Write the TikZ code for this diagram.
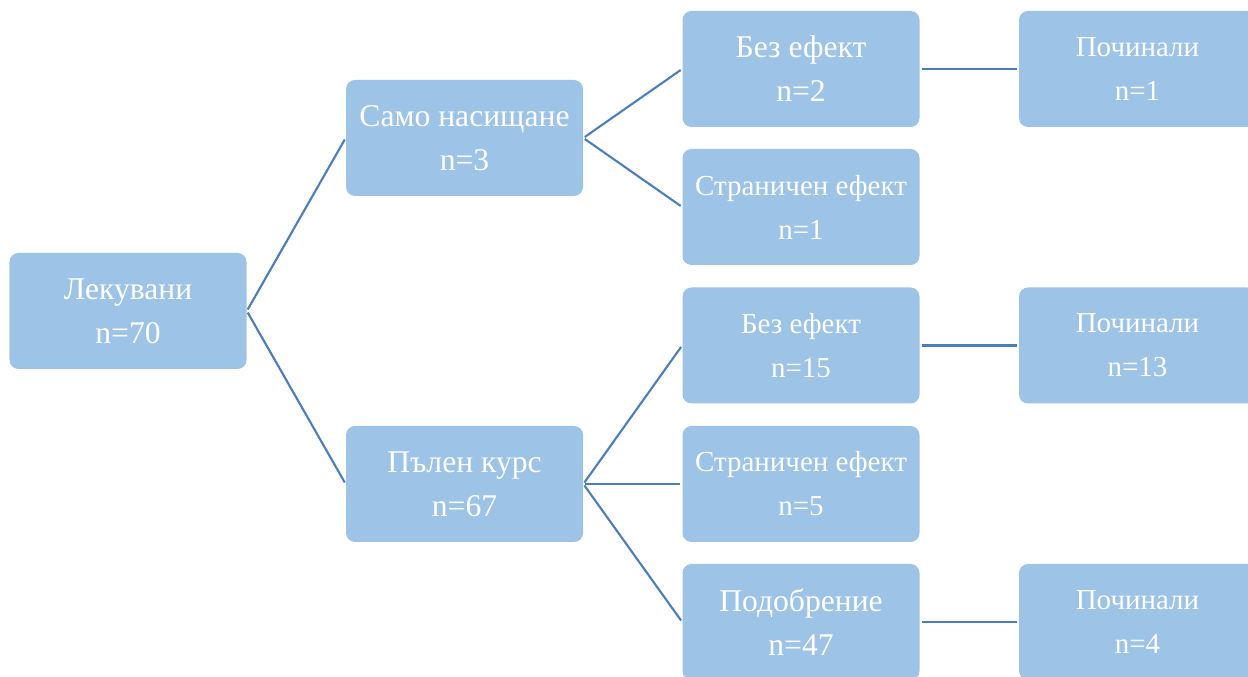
\documentclass[tikz,border=0pt]{standalone}
\usepackage{fontspec}
\setmainfont{Liberation Serif}
\usetikzlibrary{shapes}

\definecolor{boxfill}{HTML}{9DC3E6}
\definecolor{linkblue}{HTML}{4A7EBB}

\begin{document}
\begin{tikzpicture}
\tikzstyle{sbox}=[rectangle,rounded corners=0.18cm,fill=boxfill,text=white,
  minimum width=4.74cm,minimum height=2.32cm,align=center,inner sep=0pt,
  font=\fontsize{18}{25}\selectfont]
\tikzstyle{small}=[font=\fontsize{16.5}{25}\selectfont]
\tikzstyle{link}=[draw=linkblue,line width=1.2pt,shorten <=1pt,shorten >=1pt]
\useasboundingbox (0,0) rectangle (24.96,13.54);
\clip (0,0) rectangle (24.96,13.54);
\node[sbox] (lek) at (2.56,7.32) {Лекувани\\n=70};
\node[sbox] (samo) at (9.29,10.78) {Само насищане\\n=3};
\node[sbox] (palen) at (9.29,3.86) {Пълен курс\\n=67};
\node[sbox] (bez1) at (16.02,12.16) {Без ефект\\n=2};
\node[sbox,small] (str1) at (16.02,9.40) {Страничен ефект\\n=1};
\node[sbox,small] (bez2) at (16.02,6.63) {Без ефект\\n=15};
\node[sbox,small] (str2) at (16.02,3.86) {Страничен ефект\\n=5};
\node[sbox] (pod) at (16.02,1.10) {Подобрение\\n=47};
\node[sbox,small] (poch1) at (22.75,12.16) {Починали\\n=1};
\node[sbox,small] (poch2) at (22.75,6.63) {Починали\\n=13};
\node[sbox,small] (poch3) at (22.75,1.10) {Починали\\n=4};
% connectors
\draw[link] (lek.east) -- (samo.west);
\draw[link] (lek.east) -- (palen.west);
\draw[link] (samo.east) -- (bez1.west);
\draw[link] (samo.east) -- (str1.west);
\draw[link] (palen.east) -- (bez2.west);
\draw[link] (palen.east) -- (str2.west);
\draw[link] (palen.east) -- (pod.west);
\draw[link] (bez1.east) -- (poch1.west);
\draw[link] (bez2.east) -- (poch2.west);
\draw[link] (pod.east) -- (poch3.west);
\end{tikzpicture}
\end{document}
